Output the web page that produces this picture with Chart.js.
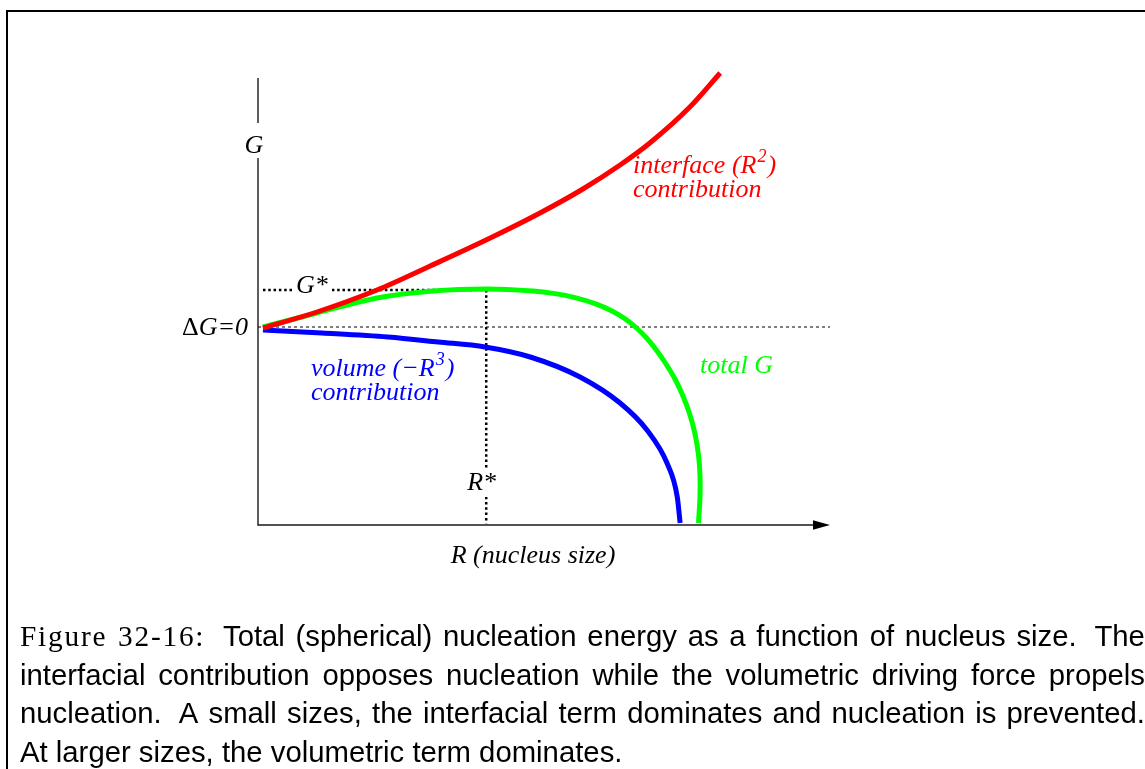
<!DOCTYPE html>
<html>
<head>
<meta charset="utf-8">
<script src="https://cdn.jsdelivr.net/npm/chart.js@4"></script>
<style>
  html, body { margin: 0; padding: 0; background: #fff; overflow: hidden; }
  body { width: 1145px; height: 769px; position: relative; }
  #frame { position: absolute; left: 6px; top: 10px; width: 3000px; height: 3000px;
           border-top: 2px solid #000; border-left: 2px solid #000; }
  #c { position: absolute; left: 0; top: 0; }
  .cap { position: absolute; left: 20px; width: 1125px; font-family: "Liberation Sans", Arial, sans-serif;
         font-size: 29.3px; line-height: 29px; color: #000; white-space: nowrap; }
  .just { display: flex; justify-content: space-between; align-items: baseline; }
  .serif { font-family: "Liberation Serif", "Times New Roman", serif; letter-spacing: 1.8px; }
  .sp { margin-left: 7px; }
</style>
</head>
<body>
<div id="frame"></div>
<canvas id="c" width="1145" height="769"></canvas>
<div class="cap just" style="top:621px"><span class="serif">Figure</span><span class="serif">32-16:</span><span class="sp">Total</span><span>(spherical)</span><span>nucleation</span><span>energy</span><span>as</span><span>a</span><span>function</span><span>of</span><span>nucleus</span><span>size.</span><span class="sp">The</span></div>
<div class="cap just" style="top:660px"><span>interfacial</span><span>contribution</span><span>opposes</span><span>nucleation</span><span>while</span><span>the</span><span>volumetric</span><span>driving</span><span>force</span><span>propels</span></div>
<div class="cap just" style="top:698px"><span>nucleation.</span><span class="sp">A</span><span>small</span><span>sizes,</span><span>the</span><span>interfacial</span><span>term</span><span>dominates</span><span>and</span><span>nucleation</span><span>is</span><span>prevented.</span></div>
<div class="cap" style="top:737px">At larger sizes, the volumetric term dominates.</div>
<script>
// ---- Data (R: nucleus size in arbitrary units 0..100, G: free energy in arbitrary units, 0 = ΔG=0) ----
const R_interface = [0.87, 10.3, 20.8, 30.1, 40.6, 49.3, 56.8, 63.3, 68.5, 75.5, 80.8];
const G_interface = [-0.5, 7.5, 18.5, 30.5, 44.5, 57, 69, 81, 92, 110, 127];

const R_total = [0.87, 10.31, 20.8, 30.59, 40.03, 48.08, 51.92, 55.42, 58.92, 61.89, 64.16, 66.08, 68.01, 69.76, 71.33, 72.9, 74.3, 75.52, 76.4, 77.01, 77.27, 77.27, 77.01];
const G_total = [0, 7, 14.5, 18, 19, 18, 16.7, 14.7, 11.7, 8.05, 4.15, -0.25, -5.75, -12, -18.5, -26, -34.5, -44, -53.5, -64, -74, -85, -98];

const R_volume = [0.87, 11.2, 22.7, 31.5, 39.7, 47.6, 56.3, 63.3, 68.0, 71.5, 73.3, 73.8];
const G_volume = [-1.5, -3, -5, -7.5, -10, -15, -25, -38, -51.5, -68, -85, -98];

const G_STAR = 18.5;   // barrier height
const R_STAR = 39.9;   // critical radius
const R_MIN = 0, R_MAX = 100;
const G_MIN = -99, G_MAX = 129.5;
const G_AXIS_TOP = 124.5;
const R_AXIS_END = 100;

const zip = (xs, ys) => xs.map((x, i) => ({ x: x, y: ys[i] }));

const serifItalic = (px) => 'italic ' + px + 'px "Liberation Serif", "Times New Roman", serif';
const serifUpright = (px) => px + 'px "Liberation Serif", "Times New Roman", serif';

function drawRich(ctx, parts, x, y, color) {
  ctx.fillStyle = color;
  ctx.textBaseline = 'alphabetic';
  ctx.textAlign = 'left';
  let cx = x;
  parts.forEach(p => {
    if (p[1]) {
      ctx.font = serifItalic(18);
      ctx.fillText(p[0], cx + 1, y - 11);
      cx += ctx.measureText(p[0]).width + 2;
    } else {
      ctx.font = serifItalic(26);
      ctx.fillText(p[0], cx, y);
      cx += ctx.measureText(p[0]).width;
    }
  });
}

const decorPlugin = {
  id: 'decor',
  beforeDatasetsDraw(chart) {
    const ctx = chart.ctx;
    const xs = chart.scales.x, ys = chart.scales.y;
    const x0 = xs.getPixelForValue(R_MIN), y0 = ys.getPixelForValue(G_MIN);
    const yTop = ys.getPixelForValue(G_AXIS_TOP);
    const xEnd = xs.getPixelForValue(R_AXIS_END);
    ctx.save();
    ctx.strokeStyle = '#1a1a1a';
    ctx.fillStyle = '#000';
    ctx.lineWidth = 1.4;
    ctx.beginPath();
    ctx.moveTo(x0, yTop);
    ctx.lineTo(x0, y0);
    ctx.lineTo(xEnd - 14, y0);
    ctx.stroke();
    ctx.beginPath();
    ctx.moveTo(xEnd, y0);
    ctx.lineTo(xEnd - 17, y0 - 4.7);
    ctx.lineTo(xEnd - 17, y0 + 4.7);
    ctx.closePath();
    ctx.fill();
    ctx.restore();
  },
  afterDatasetsDraw(chart) {
    const ctx = chart.ctx;
    const xs = chart.scales.x, ys = chart.scales.y;
    const x0 = xs.getPixelForValue(R_MIN);
    const yZero = ys.getPixelForValue(0);
    const yStar = ys.getPixelForValue(G_STAR);
    const xStar = xs.getPixelForValue(R_STAR);
    ctx.save();
    ctx.fillStyle = '#fff';
    ctx.fillRect(x0 - 12, 123, 24, 35);
    ctx.fillRect(294, yStar - 6, 38, 12);
    ctx.fillRect(xStar - 6, 469, 12, 28);
    ctx.restore();

    ctx.save();
    ctx.font = serifItalic(26);
    ctx.fillStyle = '#000';
    ctx.textBaseline = 'alphabetic';
    ctx.textAlign = 'center';
    ctx.fillText('G', x0 - 4, 153);
    ctx.textAlign = 'right';
    const rx = x0 - 10;
    ctx.fillText('G=0', rx, yZero + 8);
    const w = ctx.measureText('G=0').width;
    ctx.font = serifUpright(26);
    ctx.fillText('\u0394', rx - w, yZero + 8);
    ctx.font = serifItalic(26);
    ctx.textAlign = 'left';
    ctx.fillText('G*', 296, yStar + 3);
    ctx.fillText('R*', xStar - 19, 490);
    ctx.textAlign = 'center';
    ctx.fillText('R (nucleus size)', 533, 563);
    ctx.restore();

    drawRich(ctx, [['interface (R', false], ['2', true], [')', false]], 633, 173, '#ff0000');
    drawRich(ctx, [['contribution', false]], 633, 197, '#ff0000');
    drawRich(ctx, [['volume (\u2212R', false], ['3', true], [')', false]], 311, 376, '#0000ff');
    drawRich(ctx, [['contribution', false]], 311, 400, '#0000ff');
    drawRich(ctx, [['total G', false]], 700, 373, '#00ff00');
  }
};

const curve = { borderWidth: 5, cubicInterpolationMode: 'monotone' };

new Chart(document.getElementById('c'), {
  type: 'line',
  data: {
    datasets: [
      Object.assign({ label: 'interface', data: zip(R_interface, G_interface), borderColor: '#ff0000' }, curve),
      { label: 'total', data: zip(R_total, G_total), borderColor: '#00ff00', borderWidth: 5, tension: 0.35 },
      Object.assign({ label: 'volume', data: zip(R_volume, G_volume), borderColor: '#0000ff' }, curve),
      { label: 'zero', data: [{ x: R_MIN, y: 0 }, { x: R_MAX, y: 0 }], borderColor: '#000', borderWidth: 1, borderDash: [3, 3], tension: 0 },
      { label: 'gstar', data: [{ x: 0.87, y: G_STAR }, { x: R_STAR + 0.2, y: G_STAR }], borderColor: '#000', borderWidth: 2.5, borderDash: [2.5, 2.8], tension: 0 },
      { label: 'rstar', data: [{ x: R_STAR, y: G_STAR }, { x: R_STAR, y: G_MIN + 0.8 }], borderColor: '#000', borderWidth: 2.5, borderDash: [2.5, 2.8], tension: 0 }
    ]
  },
  options: {
    responsive: false,
    animation: false,
    events: [],
    layout: { padding: { left: 258, right: 315, top: 68, bottom: 244 } },
    elements: { point: { radius: 0 }, line: { fill: false, borderCapStyle: 'butt' } },
    plugins: { legend: { display: false }, tooltip: { enabled: false }, title: { display: false } },
    scales: {
      x: { type: 'linear', min: R_MIN, max: R_MAX, display: false },
      y: { type: 'linear', min: G_MIN, max: G_MAX, display: false }
    },
    clip: false
  },
  plugins: [decorPlugin]
});
</script>
</body>
</html>
